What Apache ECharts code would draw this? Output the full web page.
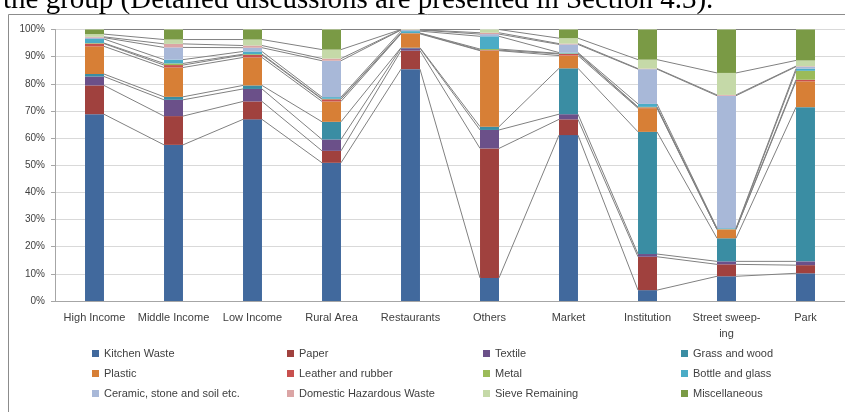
<!DOCTYPE html>
<html>
<head>
<meta charset="utf-8">
<script src="https://cdn.jsdelivr.net/npm/echarts@6/dist/echarts.min.js"></script>
<style>html,body{margin:0;padding:0;background:#fff}#c{width:845px;height:412px}</style>
</head>
<body>
<div id="c"></div>
<script>
// ---- data ----
const categories = ['High Income','Middle Income','Low Income','Rural Area','Restaurants','Others','Market','Institution','Street sweep-ing','Park'];
const seriesNames = ['Kitchen Waste','Paper','Textile','Grass and wood','Plastic','Leather and rubber','Metal','Bottle and glass','Ceramic, stone and soil etc.','Domestic Hazardous Waste','Sieve Remaining','Miscellaneous'];
const kitchenWaste = [68.8, 57.5, 66.9, 50.9, 85.4, 8.5, 61.1, 4.0, 9.1, 10.2];
const paper        = [10.6, 10.6, 6.6, 4.4, 6.8, 47.7, 5.8, 12.3, 4.4, 3.0];
const textile      = [3.3, 6.0, 4.6, 4.2, 0.9, 6.8, 1.9, 1.0, 1.1, 1.4];
const grassWood    = [0.9, 1.1, 1.3, 6.5, 0.2, 1.2, 16.9, 45.0, 8.5, 56.8];
const plastic      = [10.2, 10.8, 10.3, 7.5, 5.1, 28.0, 4.7, 8.7, 3.2, 9.5];
const leather      = [1.0, 0.9, 0.9, 0.8, 0.2, 0.2, 0.6, 0.3, 0.1, 0.6];
const metal        = [0.2, 0.6, 0.3, 0.2, 0.1, 0.4, 0.2, 0.2, 0.1, 3.3];
const bottleGlass  = [1.5, 1.4, 1.0, 0.6, 0.7, 4.7, 0.3, 1.1, 0.3, 0.8];
const ceramic      = [0.5, 4.5, 1.4, 13.4, 0.4, 0.8, 3.0, 12.8, 48.8, 0.7];
const hazardous    = [0.3, 1.3, 0.8, 0.8, 0.1, 0.5, 0.3, 0.2, 0.3, 0.2];
const sieve        = [1.0, 1.6, 2.2, 3.3, 0.1, 1.2, 2.0, 3.3, 8.1, 2.1];
const misc         = [1.7, 3.7, 3.7, 7.4, 0.0, 0.0, 3.2, 11.1, 16.0, 11.4];
const yTicks = ['0%','10%','20%','30%','40%','50%','60%','70%','80%','90%','100%'];

const allSeries = [kitchenWaste, paper, textile, grassWood, plastic, leather, metal, bottleGlass, ceramic, hazardous, sieve, misc];
const colors = ['#41699D','#A0413E','#6B5089','#3A8DA3','#D77F36','#C8504E','#9BBB59','#4BACC6','#A8B8D8','#DBA5A5','#C5D9A8','#7A9A45'];

// normalise each column to 100%
const totals = categories.map((c, i) => allSeries.reduce((s, a) => s + a[i], 0));
const pct = allSeries.map(a => a.map((v, i) => v / totals[i] * 100));
function cum(i, k) { let s = 0; for (let j = 0; j <= k; j++) s += pct[j][i]; return s; }

const FONT = '"Liberation Sans", Arial, sans-serif';
const BAR_FRAC = 0.24;

const barSeries = seriesNames.map((n, k) => ({
  name: n, type: 'bar', stack: 'all', data: pct[k], barWidth: (BAR_FRAC * 100) + '%',
  itemStyle: { color: colors[k] }, emphasis: { disabled: true }, animation: false
}));

const lineData = [];
for (let i = 0; i < categories.length - 1; i++) for (let k = 0; k < seriesNames.length; k++) lineData.push([i, k]);

const seriesLines = {
  type: 'custom', z: 5, animation: false, silent: true,
  encode: { x: 0, y: 1 },
  data: lineData,
  renderItem: function (params, api) {
    const i = api.value(0), k = api.value(1);
    const hw = api.size([1, 0])[0] * BAR_FRAC / 2;
    const p1 = api.coord([i, cum(i, k)]);
    const p2 = api.coord([i + 1, cum(i + 1, k)]);
    return { type: 'line', shape: { x1: p1[0] + hw, y1: p1[1], x2: p2[0] - hw, y2: p2[1] },
      style: { stroke: '#808080', lineWidth: 1 } };
  }
};

const legendLeft = [92, 287, 483, 681];
const legendTop = [348, 368, 388];
const legends = seriesNames.map((n, k) => ({
  data: [n], left: legendLeft[k % 4], top: legendTop[Math.floor(k / 4)],
  itemWidth: 7, itemHeight: 7, icon: 'rect', padding: 0, selectedMode: false,
  textStyle: { fontSize: 11, color: '#404040', fontFamily: FONT }
}));

const chart = echarts.init(document.getElementById('c'), null, { renderer: 'canvas' });
chart.setOption({
  animation: false,
  grid: { left: 55, right: 0, top: 29.5, bottom: 111, containLabel: false },
  xAxis: {
    type: 'category', data: categories,
    axisLine: { lineStyle: { color: '#A6A6A6' } },
    axisTick: { show: false },
    axisLabel: { margin: 9, fontSize: 11, color: '#404040', fontFamily: FONT, interval: 0,
      formatter: v => v.replace('sweep-ing', 'sweep-\ning'), lineHeight: 16 }
  },
  yAxis: {
    type: 'value', min: 0, max: 100, interval: 10,
    axisLine: { show: true, lineStyle: { color: '#A6A6A6' } },
    axisTick: { show: true, length: 4, lineStyle: { color: '#A6A6A6' } },
    splitLine: { lineStyle: { color: '#D9D9D9' } },
    axisLabel: { margin: 10, fontSize: 10, color: '#404040', fontFamily: FONT,
      formatter: v => yTicks[Math.round(v / 10)] }
  },
  legend: legends,
  graphic: [
    { type: 'rect', shape: { x: 8.5, y: 14.5, width: 900, height: 500 }, style: { fill: 'none', stroke: '#8C8C8C', lineWidth: 1 }, z: -1 },
    { type: 'text', x: 3, y: -14, style: { text: 'the group (Detailed discussions are presented in Section 4.3).', font: '29px "Liberation Serif", "Times New Roman", serif', fill: '#000' } }
  ],
  series: barSeries.concat([seriesLines])
});
</script>
</body>
</html>
